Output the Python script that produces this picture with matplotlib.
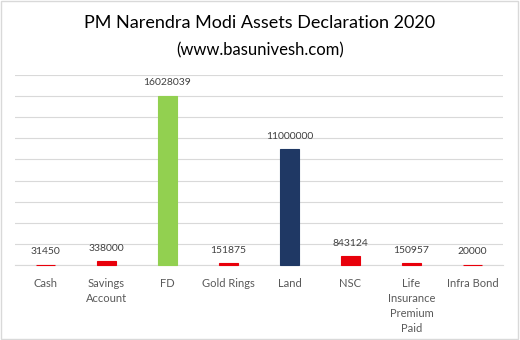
import numpy as np
import matplotlib.pyplot as plt
from matplotlib.patches import Rectangle

plt.rcParams['font.family'] = ['Lato', 'DejaVu Sans']

categories = ['Cash', 'Savings\nAccount', 'FD', 'Gold Rings', 'Land', 'NSC',
              'Life\nInsurance\nPremium\nPaid', 'Infra Bond']
values = [31450, 338000, 16028039, 151875, 11000000, 843124, 150957, 20000]
colors = ['#e8000b', '#e8000b', '#92d050', '#e8000b', '#1f3864', '#e8000b',
          '#e8000b', '#e8000b']

fig = plt.figure(figsize=(5.2, 3.4), dpi=100)
ax = fig.add_axes([15 / 520, 1 - 265 / 340, 488 / 520, 190 / 340])

x = np.arange(len(values))
# thin edge keeps the tiny amounts visible as a line
bars = ax.bar(x, values, width=0.30, color=colors, edgecolor=colors,
              linewidth=0.8, zorder=3)
for b in bars:
    b.set_clip_on(False)

# value labels above each bar
for xi, v in zip(x, values):
    ax.annotate(str(v), (xi, v), xytext=(0, 6), textcoords='offset points',
                ha='center', va='bottom', fontsize=7.5, color='#404040')

ax.set_xlim(-0.5, len(values) - 0.5)
ax.set_ylim(0, 18000000)
ax.set_yticks(np.arange(0, 18000001, 2000000))
ax.yaxis.grid(True, color='#d9d9d9', linewidth=0.8, zorder=0)
ax.tick_params(axis='y', left=False, labelleft=False)
ax.tick_params(axis='x', bottom=False, labelsize=8, labelcolor='#595959', pad=6)
ax.set_xticks(x)
ax.set_xticklabels(categories, linespacing=1.45, va='top')
for s in ['top', 'left', 'right']:
    ax.spines[s].set_visible(False)
ax.spines['bottom'].set_color('#d9d9d9')
ax.spines['bottom'].set_zorder(1)

fig.text(0.5, 1 - 23 / 340, 'PM Narendra Modi Assets Declaration 2020',
         ha='center', va='center', fontsize=13, color='#000000')
fig.text(0.5, 1 - 50 / 340, '(www.basunivesh.com)',
         ha='center', va='center', fontsize=12, color='#000000')

# light frame round the chart
fig.patches.append(Rectangle((0.002, 0.003), 0.994, 0.994, transform=fig.transFigure,
                             fill=False, edgecolor='#d9d9d9', linewidth=1))

fig.savefig('out.png', dpi=100)
